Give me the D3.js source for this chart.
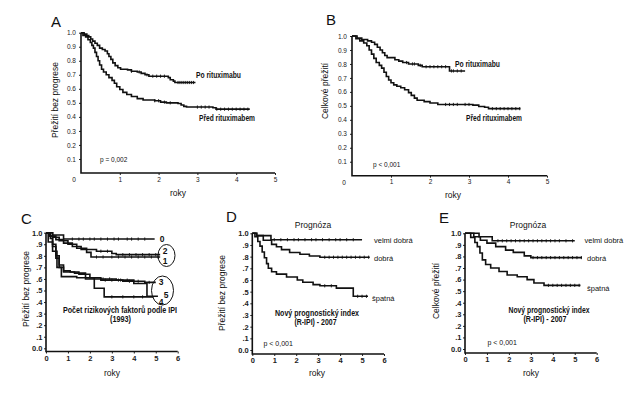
<!DOCTYPE html>
<html>
<head>
<meta charset="utf-8">
<script src="https://cdn.jsdelivr.net/npm/d3@7"></script>
<style>
  body { margin: 0; background: #fff; }
  svg { display: block; font-family: "Liberation Sans", Arial, sans-serif; }
  .bold { font-family: "Liberation Sans Narrow", "Arial Narrow", "Liberation Sans", sans-serif; font-weight: bold; }
</style>
</head>
<body>
<svg id="chart" width="644" height="399"></svg>
<script>
// --- data: [years, survival] step points ---
const aPo = [[0,1],[0.08,0.99],[0.15,0.98],[0.2,0.97],[0.25,0.955],[0.3,0.94],[0.36,0.925],[0.42,0.91],[0.48,0.89],[0.55,0.88],[0.62,0.87],[0.68,0.85],[0.72,0.83],[0.77,0.81],[0.82,0.785],[0.88,0.765],[0.95,0.75],[1.02,0.74],[1.2,0.735],[1.3,0.725],[1.45,0.72],[1.55,0.71],[1.65,0.7],[1.75,0.69],[2.25,0.68],[2.3,0.665],[2.38,0.655],[2.42,0.645],[2.95,0.645]];
const aPred = [[0,1],[0.05,0.98],[0.12,0.97],[0.18,0.95],[0.24,0.93],[0.28,0.91],[0.32,0.89],[0.36,0.86],[0.4,0.83],[0.44,0.8],[0.48,0.77],[0.53,0.74],[0.58,0.72],[0.65,0.7],[0.72,0.68],[0.8,0.66],[0.86,0.64],[0.92,0.615],[1.0,0.595],[1.08,0.575],[1.18,0.56],[1.3,0.545],[1.45,0.53],[1.6,0.52],[1.9,0.515],[2.05,0.505],[2.2,0.5],[2.5,0.495],[2.58,0.485],[2.65,0.475],[2.72,0.47],[3.4,0.465],[3.48,0.455],[4.35,0.455]];
const bPo = [[0,1],[0.13,0.985],[0.25,0.975],[0.4,0.965],[0.5,0.955],[0.58,0.94],[0.65,0.92],[0.72,0.9],[0.78,0.88],[0.84,0.86],[0.9,0.845],[1.1,0.83],[1.2,0.82],[1.3,0.81],[1.45,0.8],[1.7,0.79],[1.8,0.78],[2.5,0.75],[2.9,0.75]];
const bPred = [[0,1],[0.1,0.98],[0.2,0.965],[0.3,0.95],[0.38,0.93],[0.44,0.9],[0.5,0.87],[0.56,0.84],[0.62,0.81],[0.7,0.79],[0.76,0.77],[0.82,0.74],[0.88,0.71],[0.94,0.685],[1.0,0.665],[1.07,0.65],[1.15,0.64],[1.25,0.63],[1.35,0.615],[1.45,0.595],[1.52,0.575],[1.6,0.555],[1.67,0.54],[1.85,0.53],[2.0,0.52],[2.2,0.51],[3.1,0.505],[3.25,0.495],[3.4,0.49],[3.5,0.48],[4.32,0.48]];
const c0 = [[0,1],[0.3,0.98],[0.8,0.945],[4.95,0.945]];
const c2 = [[0,1],[0.15,0.97],[0.45,0.94],[0.8,0.91],[1.2,0.88],[1.6,0.855],[2.3,0.84],[3.0,0.82],[3.2,0.81],[5.2,0.81]];
const c1 = [[0,1],[0.3,0.96],[0.6,0.93],[1.0,0.9],[1.4,0.865],[1.85,0.83],[2.05,0.79],[5.2,0.79]];
const c3 = [[0,1],[0.15,0.97],[0.3,0.9],[0.45,0.8],[0.6,0.72],[0.8,0.67],[1.1,0.66],[1.5,0.64],[2,0.61],[2.5,0.6],[3.2,0.59],[4.0,0.58],[4.5,0.57],[5.0,0.57]];
const c5 = [[0,1],[0.2,0.95],[0.3,0.88],[0.45,0.78],[0.6,0.7],[0.8,0.66],[1.3,0.65],[1.8,0.6],[2.5,0.59],[3.5,0.58],[4.0,0.56],[4.6,0.45],[5.1,0.45]];
const c4 = [[0,1],[0.1,0.92],[0.3,0.84],[0.5,0.7],[0.7,0.62],[1.4,0.61],[2.2,0.52],[2.65,0.445],[4.9,0.445]];
const dVelmi = [[0,1],[0.2,0.98],[0.85,0.945],[5.0,0.945]];
const dDobra = [[0,1],[0.2,0.98],[0.5,0.94],[0.88,0.905],[1.1,0.885],[1.33,0.86],[1.7,0.835],[2.17,0.82],[2.6,0.806],[3.08,0.795],[5.35,0.795]];
const dSpatna = [[0,1],[0.12,0.97],[0.25,0.93],[0.35,0.89],[0.45,0.84],[0.55,0.79],[0.65,0.74],[0.73,0.7],[0.88,0.67],[1.1,0.65],[1.56,0.625],[2.05,0.6],[2.3,0.58],[2.77,0.56],[3.08,0.55],[3.83,0.53],[4.6,0.46],[5.27,0.46]];
const eVelmi = [[0,1],[0.64,0.97],[1.24,0.935],[5.0,0.935]];
const eDobra = [[0,1],[0.4,0.97],[0.7,0.94],[1.0,0.915],[1.4,0.885],[1.85,0.855],[2.2,0.835],[2.7,0.805],[3.0,0.79],[5.33,0.79]];
const eSpatna = [[0,1],[0.26,0.965],[0.45,0.92],[0.56,0.885],[0.68,0.83],[0.79,0.77],[0.94,0.73],[1.17,0.7],[1.55,0.67],[1.92,0.64],[2.38,0.625],[2.83,0.6],[3.14,0.57],[3.6,0.55],[5.26,0.55]];

// censored observations (years)
const aPoCens = [1.3,1.5,1.7,1.85,1.95,2.05,2.15,2.5,2.55,2.6,2.65,2.7,2.75,2.8,2.85,2.9];
const aPredCens = [1.9,2.0,2.15,2.3,3.0,3.1,3.2,3.3,3.5,3.6,3.7,3.8,3.9,4.0,4.1,4.2,4.3];
const bPoCens = [1.4,1.55,1.6,1.75,1.9,2.0,2.1,2.2,2.3,2.4,2.55,2.6,2.7,2.8];
const bPredCens = [2.4,2.5,2.6,2.7,2.9,3.0,3.6,3.7,3.8,3.9,4.0,4.1,4.2,4.3];
const c0Cens = [1.2,1.5,1.7,2.0,2.2,2.5,2.8,3.1,3.3,3.7,3.9,4.2,4.5];
const c2Cens = [2.5,2.8,3.5,3.8,4.1,4.4,4.7,5.0];
const c1Cens = [2.3,2.6,3.0,3.3,3.6,3.9,4.2,4.5,4.8,5.1];
const c3Cens = [2.6,2.9,3.3,3.7,4.2,4.7];
const c5Cens = [2.7,3.0,3.4,3.8];
const c4Cens = [3.0,3.5,4.0,4.4];
const dVelmiCens = [1.0,1.3,1.6,1.9,2.1,2.4,2.7,2.9,3.2,3.5,3.8,4.0,4.3,4.6];
const dDobraCens = [3.3,3.5,3.7,3.9,4.1,4.3,4.5,4.7,4.9,5.1,5.3];
const dSpatnaCens = [3.3,3.6,4.8,5.0,5.2];
const eVelmiCens = [1.5,1.7,1.9,2.1,2.3,2.5,2.7,2.9,3.1,3.3,3.5,3.7,3.9,4.1,4.3,4.6,4.9];
const eDobraCens = [3.1,3.3,3.5,3.7,3.9,4.1,4.3,4.5,4.7,4.9,5.1,5.3];
const eSpatnaCens = [3.8,4.0,4.2,4.4,4.6,4.8,5.0,5.2];

// tick values
const xTicksAB = [1, 2, 3, 4, 5];
const xTicksCDE = [0, 1, 2, 3, 4, 5, 6];
const yTicksAB = [0.1, 0.2, 0.3, 0.4, 0.5, 0.6, 0.7, 0.8, 0.9, 1.0];
const yTicksCDE = [0, 0.1, 0.2, 0.3, 0.4, 0.5, 0.6, 0.7, 0.8, 0.9, 1.0];

const svg = d3.select("#chart");
svg.append("rect").attr("width", 644).attr("height", 399).attr("fill", "#fff");

const fmtAB = d3.format(".1f");
const fmtCDE = d => d === 0 ? "0.0" : d === 1 ? "1.0" : d3.format(".1f")(d).replace(/^0/, "");

const panels = [
  { xr: [81, 275], yr: [173, 32.7], xMax: 5, axisY: 173, small: true,
    series: [[aPo, aPoCens], [aPred, aPredCens]] },
  { xr: [352, 547], yr: [175.7, 36], xMax: 5, axisY: 175.7, small: true,
    series: [[bPo, bPoCens], [bPred, bPredCens]] },
  { xr: [46, 177.7], yr: [348.3, 232.7], xMax: 6, axisY: 351.5, small: false,
    series: [[c0, c0Cens], [c2, c2Cens], [c1, c1Cens], [c3, c3Cens], [c5, c5Cens], [c4, c4Cens]] },
  { xr: [252.3, 384], yr: [350, 233.3], xMax: 6, axisY: 354, small: false,
    series: [[dVelmi, dVelmiCens], [dDobra, dDobraCens], [dSpatna, dSpatnaCens]] },
  { xr: [465, 596.7], yr: [349, 233.3], xMax: 6, axisY: 353, small: false,
    series: [[eVelmi, eVelmiCens], [eDobra, eDobraCens], [eSpatna, eSpatnaCens]] }
];

const bis = d3.bisector(d => d[0]).right;

panels.forEach(p => {
  const g = svg.append("g");
  const x = d3.scaleLinear().domain([0, p.xMax]).range(p.xr);
  const y = d3.scaleLinear().domain([0, 1]).range(p.yr);

  // y axis
  const ya = g.append("g")
    .attr("transform", `translate(${p.xr[0]},0)`)
    .call(d3.axisLeft(y)
      .tickValues(p.small ? yTicksAB : yTicksCDE)
      .tickFormat(p.small ? fmtAB : fmtCDE)
      .tickSize(2).tickPadding(p.small ? 3 : 1.5));
  ya.select(".domain").remove();
  ya.selectAll("text")
    .attr("font-size", p.small ? 6.5 : 7.5)
    .attr("font-weight", p.small ? "normal" : "bold")
    .attr("font-family", "Liberation Sans, Arial, sans-serif")
    .attr("fill", "#222");
  ya.selectAll("line").attr("stroke", "#222");

  // x axis
  const xa = g.append("g")
    .attr("transform", `translate(0,${p.axisY})`)
    .call(d3.axisBottom(x)
      .tickValues(p.small ? xTicksAB : xTicksCDE)
      .tickFormat(d3.format("d"))
      .tickSize(2).tickPadding(2));
  xa.select(".domain").remove();
  xa.selectAll("text")
    .attr("font-size", p.small ? 6.5 : 7.5)
    .attr("font-weight", p.small ? "normal" : "bold")
    .attr("font-family", "Liberation Sans, Arial, sans-serif")
    .attr("fill", "#222");
  xa.selectAll("line").attr("stroke", "#222");

  // axis lines
  g.append("path")
    .attr("d", `M${p.xr[0]},${y(1)}V${p.axisY}H${x(p.xMax)}`)
    .attr("fill", "none").attr("stroke", "#111").attr("stroke-width", 1.6);

  const line = d3.line()
    .x(d => x(d[0]))
    .y(d => y(d[1]))
    .curve(d3.curveStepAfter);

  p.series.forEach(([pts, cens]) => {
    g.append("path")
      .datum(pts)
      .attr("d", line)
      .attr("fill", "none")
      .attr("stroke", "#111")
      .attr("stroke-width", 1.6);
    g.selectAll(null)
      .data(cens)
      .join("line")
      .attr("x1", c => x(c)).attr("x2", c => x(c))
      .attr("y1", c => y(pts[bis(pts, c) - 1][1]) - 1.6)
      .attr("y2", c => y(pts[bis(pts, c) - 1][1]) + 1.6)
      .attr("stroke", "#111").attr("stroke-width", 0.9);
  });
});

// --- text ---
function txt(s, px, py, opt = {}) {
  const t = svg.append("text")
    .attr("x", px).attr("y", py)
    .attr("font-size", opt.size || 8)
    .attr("text-anchor", opt.anchor || "start")
    .attr("fill", "#111")
    .text(s);
  if (opt.bold) t.attr("class", "bold");
  if (opt.len) t.attr("textLength", opt.len).attr("lengthAdjust", "spacingAndGlyphs");
  if (opt.rotate) t.attr("transform", `rotate(-90,${px},${py})`);
  return t;
}

// panel letters
txt("A", 51, 27, { size: 15 });
txt("B", 326, 25, { size: 15 });
txt("C", 21, 224, { size: 15 });
txt("D", 226, 222, { size: 15 });
txt("E", 439, 223, { size: 15 });

// origin labels for A and B
txt("0", 74, 182, { size: 6.5, anchor: "middle" });
txt("0", 344, 184.5, { size: 6.5, anchor: "middle" });

// axis titles
txt("Přežití bez progrese", 58, 100, { size: 8.5, anchor: "middle", rotate: true });
txt("Celkové přežití", 328, 91, { size: 8.5, anchor: "middle", rotate: true });
txt("Přežití bez progrese", 29, 289, { size: 8.5, anchor: "middle", rotate: true });
txt("Přežití bez progrese", 225, 293, { size: 8.5, anchor: "middle", rotate: true });
txt("Celkové přežití", 438.5, 291, { size: 8.5, anchor: "middle", rotate: true });
txt("roky", 178, 196, { size: 8.5, anchor: "middle" });
txt("roky", 453, 198, { size: 8.5, anchor: "middle" });
txt("roky", 112, 376, { size: 8.5, anchor: "middle" });
txt("roky", 317, 376, { size: 8.5, anchor: "middle" });
txt("roky", 531, 376, { size: 8.5, anchor: "middle" });

// p values
txt("p = 0,002", 100, 161.5, { size: 6.5 });
txt("p < 0,001", 373, 166.5, { size: 6.5 });
txt("p < 0,001", 263.5, 345.5, { size: 7 });
txt("p < 0,001", 487.5, 344.5, { size: 7 });

// series labels
txt("Po rituximabu", 196, 78, { size: 8.5, bold: true, len: 45 });
txt("Před rituximabem", 199, 121, { size: 8.5, bold: true, len: 56 });
txt("Po rituximabu", 455, 67, { size: 8.5, bold: true, len: 45 });
txt("Před rituximabem", 466, 121, { size: 8.5, bold: true, len: 56 });

txt("Počet rizikových faktorů podle IPI", 63, 313, { size: 8.5, bold: true, len: 114 });
txt("(1993)", 110, 321.5, { size: 8.5, bold: true, len: 21 });
const cLabels = [["0", 162, 241.5], ["2", 165, 254], ["1", 165, 263.5], ["3", 161, 285], ["5", 166, 298], ["4", 161, 304.5]];
cLabels.forEach(([s, lx, ly]) => txt(s, lx, ly, { size: 8.5, bold: true, anchor: "middle" }));
svg.append("ellipse").attr("cx", 166.5).attr("cy", 255.5).attr("rx", 8.5).attr("ry", 11)
  .attr("fill", "none").attr("stroke", "#111").attr("stroke-width", 1);
svg.append("ellipse").attr("cx", 162.5).attr("cy", 290.5).attr("rx", 11).attr("ry", 14.5)
  .attr("fill", "none").attr("stroke", "#111").attr("stroke-width", 1);

txt("Prognóza", 313, 228, { size: 8.5, anchor: "middle" });
txt("Prognóza", 528, 228, { size: 8.5, anchor: "middle" });
txt("Nový prognostický index", 275, 315.5, { size: 8.5, bold: true, len: 84 });
txt("(R-IPI) - 2007", 294.5, 325, { size: 8.5, bold: true, len: 42 });
txt("Nový prognostický index", 508.5, 312.5, { size: 8.5, bold: true, len: 81 });
txt("(R-IPI) - 2007", 523.5, 322, { size: 8.5, bold: true, len: 43 });

txt("velmi dobrá", 374, 243, { size: 7.5 });
txt("dobrá", 374, 260.5, { size: 7.5 });
txt("špatná", 372, 301, { size: 7.5 });
txt("velmi dobrá", 584.5, 243, { size: 7.5 });
txt("dobrá", 587, 261, { size: 7.5 });
txt("špatná", 587, 291, { size: 7.5 });
</script>
</body>
</html>
